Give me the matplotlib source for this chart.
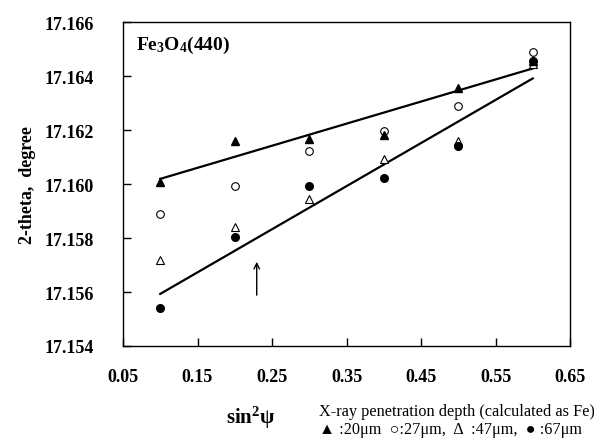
import numpy as np
import matplotlib.pyplot as plt

plt.rcParams['font.family'] = ['Liberation Serif', 'DejaVu Sans']
plt.rcParams['mathtext.fontset'] = 'custom'
plt.rcParams['mathtext.rm'] = 'Liberation Serif:bold'
plt.rcParams['mathtext.it'] = 'Liberation Serif:bold'
plt.rcParams['mathtext.bf'] = 'Liberation Serif:bold'

# sin^2(psi) positions
sin2psi = [0.1, 0.2, 0.3, 0.4, 0.5, 0.6]

# 2-theta values for each penetration depth
d20 = [17.16009, 17.16159, 17.16166, 17.16183, 17.16356, 17.16457]
d27 = [17.15890, 17.15991, 17.16123, 17.16195, 17.16288, 17.16488]
d47 = [17.15720, 17.15840, 17.15946, 17.16093, 17.16160, 17.16444]
d67 = [17.15542, 17.15803, 17.15991, 17.16021, 17.16142, 17.16454]

# fitted lines (end points)
fit_x = [0.1, 0.6]
fit_upper = [17.16019, 17.16428]
fit_lower = [17.15593, 17.16391]

fig = plt.figure(figsize=(5.94, 4.39), dpi=100)
ax = fig.add_axes([123/594, 1 - 347/439, 447/594, 324/439])

ax.plot(fit_x, fit_upper, color='black', lw=1.6)
ax.plot(fit_x, fit_lower, color='black', lw=1.6)

ax.plot(sin2psi, d27, 'o', mfc='white', mec='black', mew=0.8, ms=5.5, ls='none')
ax.plot(sin2psi, d47, '^', mfc='white', mec='black', mew=0.8, ms=5.5, ls='none')
ax.plot(sin2psi, d67, 'o', mfc='black', mec='black', ms=5.5, ls='none')
ax.plot(sin2psi, d20, '^', mfc='black', mec='black', ms=5.5, ls='none')

# arrow
ax.annotate('', xy=(0.2295, 17.15722), xytext=(0.2295, 17.15578),
            arrowprops=dict(arrowstyle='->', color='black', lw=1.0))

ax.set_xlim(0.05, 0.65)
ax.set_ylim(17.154, 17.166)
ax.set_xticks(np.arange(0.05, 0.66, 0.1))
ax.set_yticks(np.arange(17.154, 17.1661, 0.002))
ax.set_xticklabels(['%.2f' % v for v in np.arange(0.05, 0.66, 0.1)])
ax.set_yticklabels(['%.3f' % v for v in np.arange(17.154, 17.1661, 0.002)])
ax.tick_params(axis='both', direction='in', length=6, width=1, labelsize=13)
ax.tick_params(axis='x', pad=16)
ax.tick_params(axis='y', pad=21)
for lab in ax.get_xticklabels() + ax.get_yticklabels():
    lab.set_fontweight('bold')
for sp in ax.spines.values():
    sp.set_linewidth(1.0)

ax.set_ylabel('2-theta,  degree', fontsize=13, fontweight='bold', labelpad=6)

ax.text(0.03, 0.93, r'Fe$_3$O$_4$(440)', transform=ax.transAxes, fontsize=14,
        fontweight='bold', va='center', ha='left')

fig.text(251/594, 1 - 418/439, r'sin$^2$ψ', fontsize=15, fontweight='bold',
         ha='center', va='center')
fig.text(319/594, 1 - 412/439, 'X-ray penetration depth (calculated as Fe)',
         fontsize=11.7, ha='left', va='center')
fig.text(319/594, 1 - 430/439, '▲ :20μm  ○:27μm,  Δ  :47μm,  ● :67μm',
         fontsize=11.7, ha='left', va='center')

fig.savefig('out.png', dpi=100)
